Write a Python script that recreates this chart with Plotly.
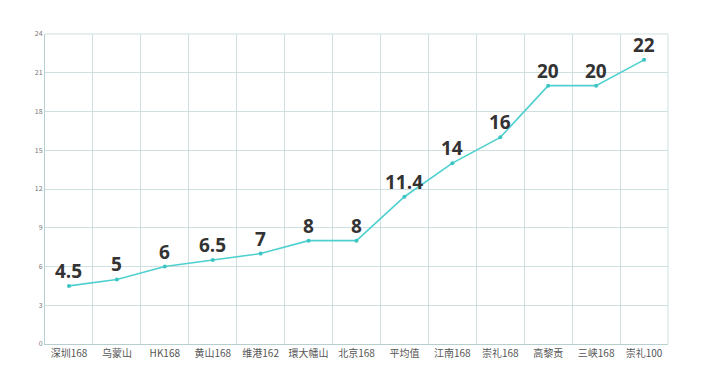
import plotly.graph_objects as go

categories = ["深圳168", "乌蒙山", "HK168", "黄山168", "维港162", "環大幡山", "北京168",
              "平均值", "江南168", "崇礼168", "高黎贡", "三峡168", "崇礼100"]
values = [4.5, 5, 6, 6.5, 7, 8, 8, 11.4, 14, 16, 20, 20, 22]
labels = ["4.5", "5", "6", "6.5", "7", "8", "8", "11.4", "14", "16", "20", "20", "22"]
y_ticks = [0, 3, 6, 9, 12, 15, 18, 21, 24]

fig = go.Figure()
fig.add_trace(go.Scatter(
    x=categories, y=values, mode="lines+markers",
    line=dict(color="#4fd0cf", width=1.6),
    marker=dict(color="#3cc4c3", size=4),
    cliponaxis=False, hoverinfo="skip",
))
for c, v, t in zip(categories, values, labels):
    fig.add_annotation(x=c, y=v, text=t, showarrow=False, yanchor="bottom", yshift=0,
                       font=dict(family="Open Sans", size=19, color="#333333", weight="bold"))

grid = "#cfe0e0"
fig.update_layout(
    width=702, height=390,
    margin=dict(l=45, r=34, t=34, b=46),
    paper_bgcolor="white", plot_bgcolor="white",
    showlegend=False,
    font=dict(family="Noto Sans CJK SC, Open Sans", color="#555555"),
)
fig.update_xaxes(
    type="category", tickson="boundaries",
    showgrid=True, gridcolor=grid, gridwidth=1,
    showline=True, linecolor="#b7cfcf", linewidth=1,
    ticks="", tickfont=dict(size=10, color="#555555"), tickangle=0,
    automargin=False,
    range=[-0.5, len(categories) - 0.5], mirror=False,
)
fig.update_yaxes(
    range=[0, 24], tickvals=y_ticks,
    showgrid=True, gridcolor=grid, gridwidth=1,
    showline=True, linecolor="#b7cfcf", linewidth=1,
    zeroline=False, ticks="", automargin=False,
    tickfont=dict(size=7, color="#777777"),
)
fig.add_shape(type="line", xref="paper", yref="paper", x0=0, x1=1, y0=1, y1=1,
              line=dict(color=grid, width=1))
fig.add_shape(type="line", xref="paper", yref="paper", x0=1, x1=1, y0=0, y1=1,
              line=dict(color=grid, width=1))

fig.write_html("out.html")
